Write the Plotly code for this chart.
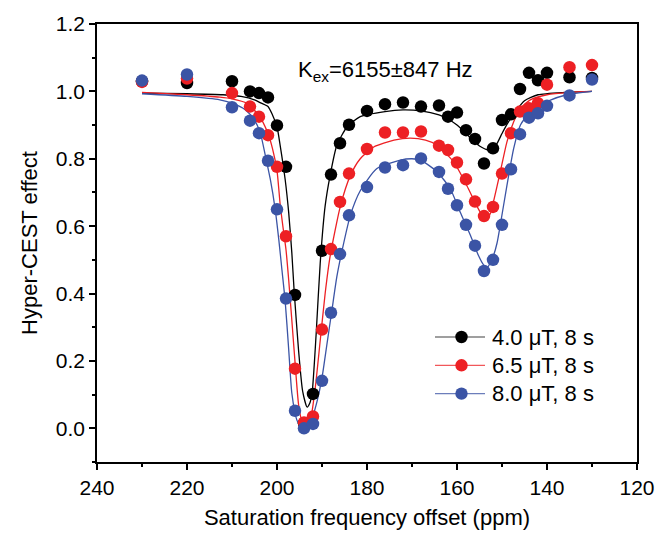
import plotly.graph_objects as go

# Saturation offsets (ppm) of the measured points
offsets = [230, 220, 210, 206, 204, 202, 200, 198, 196, 194, 192, 190, 188, 186, 184,
           180, 176, 172, 168, 164, 162, 160, 158, 156, 154, 152, 150, 148, 146, 144,
           142, 140, 135, 130]

# Measured Hyper-CEST effect for each saturation power
b1_40 = [1.030, 1.025, 1.030, 1.000, 0.995, 0.982, 0.899, 0.776, 0.396, 0.015, 0.102,
         0.527, 0.753, 0.846, 0.901, 0.942, 0.962, 0.967, 0.955, 0.958, 0.925, 0.937,
         0.885, 0.859, 0.786, 0.831, 0.915, 0.932, 1.007, 1.055, 1.033, 1.055, 1.042, 1.040]
b1_65 = [1.028, 1.038, 0.995, 0.955, 0.925, 0.870, 0.776, 0.570, 0.177, 0.017, 0.035,
         0.293, 0.532, 0.672, 0.756, 0.829, 0.878, 0.878, 0.881, 0.839, 0.826, 0.789,
         0.739, 0.673, 0.630, 0.657, 0.756, 0.876, 0.940, 0.950, 0.965, 1.020, 1.072, 1.078]
b1_80 = [1.032, 1.050, 0.953, 0.913, 0.876, 0.794, 0.650, 0.385, 0.052, 0.000, 0.013,
         0.141, 0.343, 0.517, 0.632, 0.716, 0.774, 0.781, 0.801, 0.761, 0.711, 0.662,
         0.604, 0.542, 0.467, 0.500, 0.604, 0.769, 0.873, 0.922, 0.935, 0.957, 0.988, 1.035]

# Fitted curves (nodes along each fit)
fit40_x = [230, 220, 212, 208, 205, 203.5, 202, 201, 200, 199.3, 198.2, 197.4, 196.7, 196.2,
           195.2, 194.3, 193.3, 192.7, 192.2, 191.3, 190.4, 189.3, 188.2, 186.7, 184.4, 181.5,
           176, 172, 168, 164, 162, 160, 157, 155, 153, 152, 151, 150, 149, 147, 145, 142, 136, 130]
fit40_y = [0.995, 0.993, 0.99, 0.985, 0.975, 0.965, 0.955, 0.93, 0.895, 0.84, 0.74, 0.64, 0.52,
           0.41, 0.23, 0.11, 0.063, 0.075, 0.105, 0.28, 0.49, 0.66, 0.75, 0.84, 0.895, 0.925,
           0.94, 0.945, 0.942, 0.93, 0.918, 0.9, 0.862, 0.838, 0.826, 0.828, 0.848, 0.875, 0.9,
           0.94, 0.972, 0.99, 0.997, 1.0]

fit65_x = [230, 220, 212.7, 210, 206.7, 204, 202, 201, 200, 199.3, 198.6, 198, 197.4, 196.7,
           195.9, 195.2, 194.4, 193.7, 192.6, 191.5, 190.4, 189.3, 188.2, 185.9, 183.7, 181.5,
           178.5, 174, 170.4, 167, 164.4, 160.7, 157.8, 155.6, 154.4, 153.3, 152.5, 151.9, 150.4,
           148.9, 147.4, 145.9, 143.7, 140, 135, 130]
fit65_y = [0.997, 0.99, 0.983, 0.978, 0.965, 0.928, 0.875, 0.83, 0.765, 0.665, 0.59, 0.53, 0.44,
           0.32, 0.18, 0.07, 0.018, 0.005, 0.025, 0.12, 0.26, 0.40, 0.51, 0.66, 0.75, 0.80,
           0.835, 0.855, 0.861, 0.855, 0.84, 0.79, 0.72, 0.66, 0.633, 0.627, 0.64, 0.672, 0.76,
           0.85, 0.91, 0.95, 0.975, 0.99, 0.997, 1.0]

fit80_x = [230, 220, 212.7, 210, 207, 205, 203.7, 202.6, 201.5, 200.4, 199.6, 198.9, 198.2,
           197.4, 196.7, 195.6, 194.4, 193.3, 192.2, 191.1, 190, 188.9, 187.8, 186.7, 185.5,
           183.7, 181.5, 177.8, 172.6, 170, 168.1, 164.4, 161.5, 159.3, 157, 155.2, 154.1, 153.3,
           152.6, 151.9, 151.1, 150.4, 148.9, 147.4, 145.9, 143.7, 140, 135.6, 130]
fit80_y = [0.993, 0.985, 0.975, 0.965, 0.945, 0.915, 0.876, 0.81, 0.74, 0.65, 0.56, 0.47, 0.38,
           0.234, 0.104, 0.025, -0.003, 0.0, 0.03, 0.08, 0.15, 0.25, 0.35, 0.45, 0.53,
           0.632, 0.705, 0.771, 0.796, 0.8, 0.796, 0.761, 0.711, 0.642, 0.572, 0.512, 0.485, 0.478,
           0.49, 0.512, 0.55, 0.602, 0.721, 0.831, 0.9, 0.94, 0.97, 0.99, 1.0]

labels = ["4.0 μT, 8 s", "6.5 μT, 8 s", "8.0 μT, 8 s"]
colors = ["#000000", "#ED2024", "#3B54A5"]

FONT = "Liberation Sans, Arial, sans-serif"

# plot-area geometry in pixels
W, H = 660, 534
ML, MR, MT, MB = 97, 23, 24, 72
PW, PH = W - ML - MR, H - MT - MB


def px_x(px):
    return (px - ML) / PW


def px_y(py):
    return (H - MB - py) / PH


fig = go.Figure()

fits = [(fit40_x, fit40_y), (fit65_x, fit65_y), (fit80_x, fit80_y)]
for (fx, fy), c in zip(fits, colors):
    fig.add_trace(go.Scatter(x=fx, y=fy, mode="lines",
                             line=dict(color=c, width=1.3, shape="spline", smoothing=0.6),
                             showlegend=False, hoverinfo="skip"))

for ys, c, lab in zip([b1_40, b1_65, b1_80], colors, labels):
    fig.add_trace(go.Scatter(x=offsets, y=ys, mode="markers", name=lab,
                             marker=dict(color=c, size=12.5, line=dict(width=0)),
                             showlegend=False))

# legend block: short line with a dot, then the label
for i, (lab, c) in enumerate(zip(labels, colors)):
    yp = px_y(337 + 28.3 * i)
    fig.add_shape(type="line", xref="paper", yref="paper",
                  x0=px_x(435), x1=px_x(485), y0=yp, y1=yp,
                  line=dict(color=c, width=1.2), opacity=0.75)
    fig.add_shape(type="circle", xref="paper", yref="paper",
                  xsizemode="pixel", ysizemode="pixel",
                  xanchor=px_x(461.5), yanchor=yp, x0=-6.2, x1=6.2, y0=-6.2, y1=6.2,
                  fillcolor=c, line=dict(width=0))
    fig.add_annotation(x=px_x(490), y=yp, xref="paper", yref="paper", text=lab,
                       showarrow=False, xanchor="left", yanchor="middle",
                       font=dict(family=FONT, size=22, color="#000"))

fig.add_annotation(x=195.7, y=1.06, xref="x", yref="y", text="K<sub>ex</sub>=6155±847 Hz",
                   showarrow=False, xanchor="left", yanchor="middle",
                   font=dict(family=FONT, size=22, color="#000"))

axis_common = dict(showline=True, linecolor="#000", linewidth=1.5, mirror=True,
                   ticks="outside", ticklen=6, tickwidth=1.5, tickcolor="#000",
                   showgrid=False, zeroline=False, automargin=False,
                   tickfont=dict(family=FONT, size=21, color="#000"))

fig.update_xaxes(range=[240, 120], dtick=20, tick0=120,
                 minor=dict(ticks="outside", ticklen=3.5, tickwidth=1.5, tickcolor="#000", dtick=10, tick0=120),
                 title=dict(text="Saturation frequency offset (ppm)",
                            font=dict(family=FONT, size=22, color="#000"), standoff=12),
                 **axis_common)
fig.update_yaxes(range=[-0.1, 1.2], dtick=0.2, tick0=0, tickformat=".1f",
                 minor=dict(ticks="outside", ticklen=3.5, tickwidth=1.5, tickcolor="#000", dtick=0.1, tick0=0),
                 title=dict(text="Hyper-CEST effect", font=dict(family=FONT, size=22, color="#000"), standoff=12),
                 **axis_common)

fig.update_layout(
    width=W, height=H,
    margin=dict(l=ML, r=MR, t=MT, b=MB),
    paper_bgcolor="white", plot_bgcolor="white",
    font=dict(family=FONT, size=22, color="#000"),
    showlegend=False,
)

fig.write_html("out.html")
